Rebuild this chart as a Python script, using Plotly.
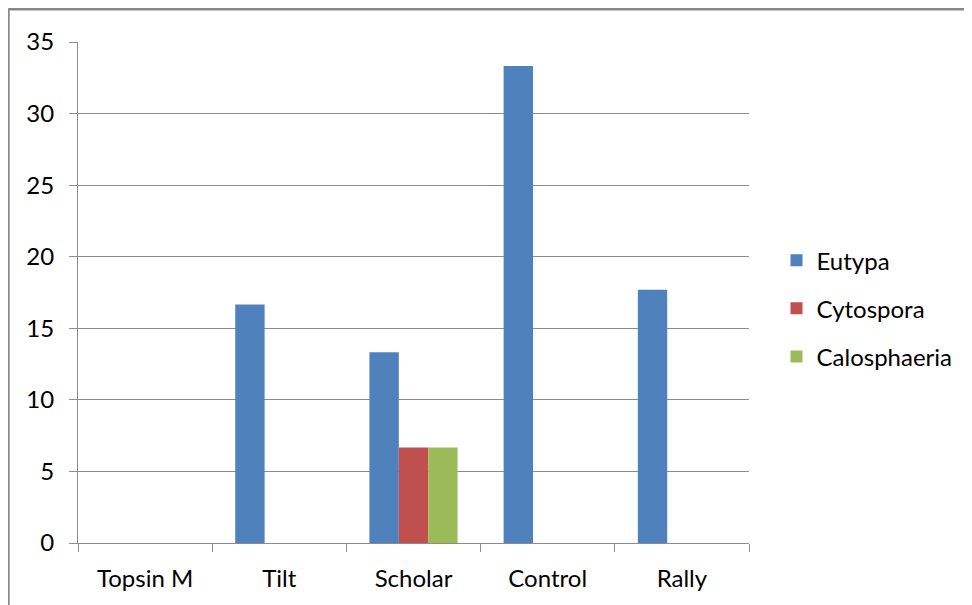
import plotly.graph_objects as go

treatments = ["Topsin M", "Tilt", "Scholar", "Control", "Rally"]
eutypa = [0, 16.67, 13.33, 33.33, 17.7]
cytospora = [0, 0, 6.67, 0, 0]
calosphaeria = [0, 0, 6.67, 0, 0]

series = [
    ("Eutypa", eutypa, "#4F81BD"),
    ("Cytospora", cytospora, "#C0504D"),
    ("Calosphaeria", calosphaeria, "#9BBB59"),
]

fig = go.Figure()
for name, vals, color in series:
    fig.add_trace(
        go.Bar(
            x=treatments,
            y=vals,
            name=name,
            marker=dict(color=color, line=dict(width=0)),
            legendgroup=name,
        )
    )

font = dict(family="Lato, 'Open Sans', sans-serif", size=24, color="#000000")
grid = "#8C8C8C"

# page body has an 8px margin, so the figure is offset by 8px
fig.update_layout(
    width=972,
    height=605,
    margin=dict(l=70, r=231, t=34, b=70),
    paper_bgcolor="white",
    plot_bgcolor="white",
    barmode="group",
    bargap=0.343,
    bargroupgap=0,
    font=font,
    showlegend=True,
    legend=dict(
        x=1.041,
        y=0.468,
        xanchor="left",
        yanchor="middle",
        tracegroupgap=14,
        font=dict(size=24),
        itemwidth=30,
    ),
    shapes=[
        dict(type="line", xref="paper", yref="paper", x0=-0.104, x1=1.5,
             y0=1.066, y1=1.066, line=dict(color="#888888", width=3)),
        dict(type="line", xref="paper", yref="paper", x0=-0.104, x1=-0.104,
             y0=1.066, y1=-0.3, line=dict(color="#888888", width=3)),
    ],
)

fig.update_yaxes(
    range=[0, 35],
    dtick=5,
    showgrid=True,
    gridcolor=grid,
    gridwidth=1,
    showline=True,
    linecolor=grid,
    linewidth=1,
    ticks="outside",
    ticklen=8,
    tickcolor=grid,
    ticklabelstandoff=10,
    zeroline=False,
    tickfont=font,
)
fig.update_xaxes(
    showline=True,
    linecolor=grid,
    linewidth=1,
    ticks="outside",
    ticklen=8,
    tickcolor=grid,
    tickson="boundaries",
    showgrid=False,
    ticklabelstandoff=14,
    tickfont=font,
)

fig.write_html("out.html")
